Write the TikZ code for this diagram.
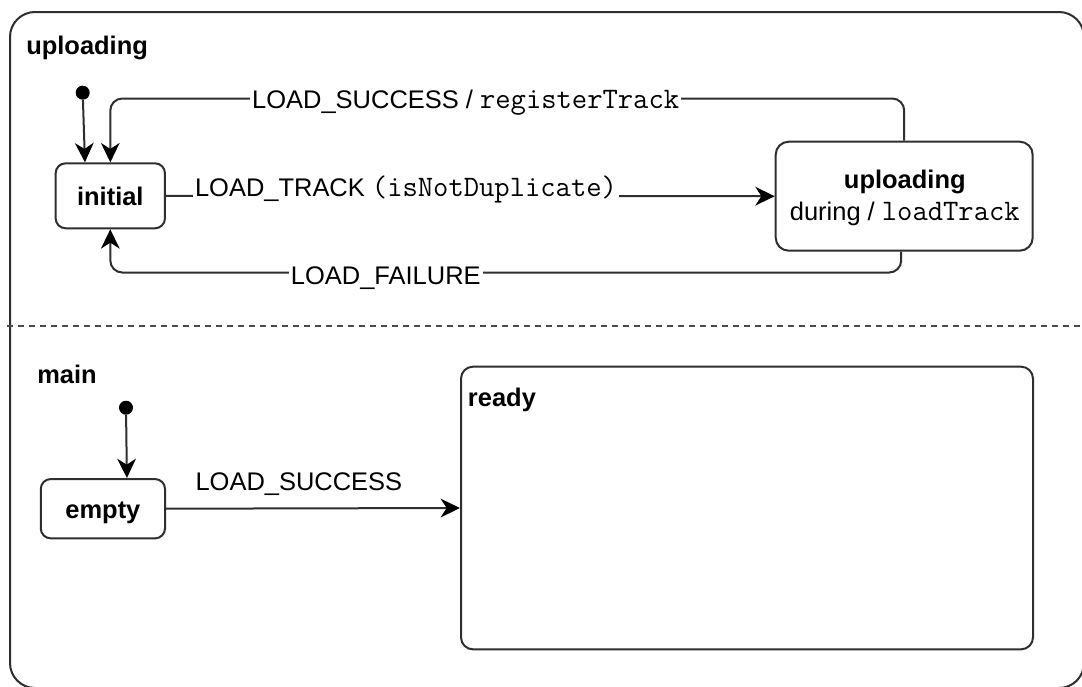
\documentclass[tikz,border=0pt]{standalone}
\usepackage{fontspec}
\setmainfont{Liberation Sans}
\usetikzlibrary{arrows.meta}
\definecolor{linegray}{HTML}{2E2E2E}
\definecolor{dashgray}{HTML}{4A4A4A}
% inline code in a typewriter face
\newcommand\cod[1]{{\fontsize{22.3pt}{24pt}\selectfont\ttfamily #1}}

\begin{document}
\begin{tikzpicture}[x=0.75pt,y=-0.75pt,
  every node/.style={font=\fontsize{19.1pt}{22pt}\selectfont},
  ln/.style={draw=linegray, line width=1.5pt},
  arr/.style={ln, -{Stealth[length=14.5pt,width=14pt,inset=4.5pt,color=black]}},
  statebox/.style={ln, rounded corners=7.5pt, fill=white, inner sep=0pt,
    text height=15pt, text depth=0pt, font=\fontsize{19.1pt}{22pt}\selectfont\bfseries},
  regionbox/.style={ln, rounded corners=9pt, fill=white, inner sep=0pt},
  title/.style={anchor=base west, inner sep=0pt, font=\fontsize{19.1pt}{22pt}\selectfont\bfseries},
  elabel/.style={anchor=base, fill=white, inner xsep=1.5pt, inner ysep=2pt},
  pseudo/.style={circle, fill=black, inner sep=0pt, minimum size=10.5pt},
]
\useasboundingbox (0,0) rectangle (1082,686);

% orthogonal region container
\draw[ln, rounded corners=18.75pt] (10,12) rectangle (1084,688);
\draw[draw=dashgray, line width=1.5pt, dash pattern=on 4.5pt off 3.75pt] (7,325.5) -- (1084,325.5);

% ---- region: uploading ----
\node[title] (uplregion) at (26,54) {uploading};
\node[pseudo] (d1) at (82.7,92.7) {};
\node[statebox, minimum width=82pt, minimum height=48.75pt] (init) at (110.3,195.8) {initial};
\node[regionbox, rounded corners=9.75pt, minimum width=192.75pt, minimum height=81.75pt] (upl) at (904.2,196.2) {};
\node[anchor=base, inner sep=0pt, font=\fontsize{19.1pt}{22pt}\selectfont\bfseries] (upltitle) at (904.8,188) {uploading};
\node[anchor=base, inner sep=0pt] (uplaction) at (904.8,220) {during / \cod{loadTrack}};

\coordinate (ltop) at (0,98.5);
\coordinate (lbot) at (0,272.5);
\coordinate (ubs) at ([xshift=-2.25pt]upl.south);

\draw[arr] (d1) -- ([xshift=-19pt]init.north);
\draw[arr, rounded corners=9pt] (upl.north) -- (upl.north |- ltop) -| (init.north);
\draw[arr] (init.east) -- (upl.west);
\draw[arr, rounded corners=9pt] (ubs) -- (ubs |- lbot) -| (init.south);

\node[elabel] (lsucc) at (465.7,108.3) {LOAD\_SUCCESS / \cod{registerTrack}};
\node[elabel] (ltrack) at (406,196) {LOAD\_TRACK \cod{(isNotDuplicate)}};
\node[elabel] (lfail) at (385.8,284) {LOAD\_FAILURE};

% ---- region: main ----
\node[title] (mainregion) at (37,383) {main};
\node[pseudo] (d2) at (126,407.7) {};
\node[statebox, minimum width=93.2pt, minimum height=44.5pt] (empty) at (102.9,508.7) {empty};
\node[regionbox, minimum width=429pt, minimum height=212pt] (ready) at (747,508) {};
\node[title] (readytitle) at (467.7,406.7) {ready};

\draw[arr] (d2) -- ([xshift=18pt]empty.north);
\draw[arr] (empty.east) -- (ready.west);
\node[anchor=base, inner sep=0pt] (lsucc2) at (298.9,490) {LOAD\_SUCCESS};

\end{tikzpicture}
\end{document}
